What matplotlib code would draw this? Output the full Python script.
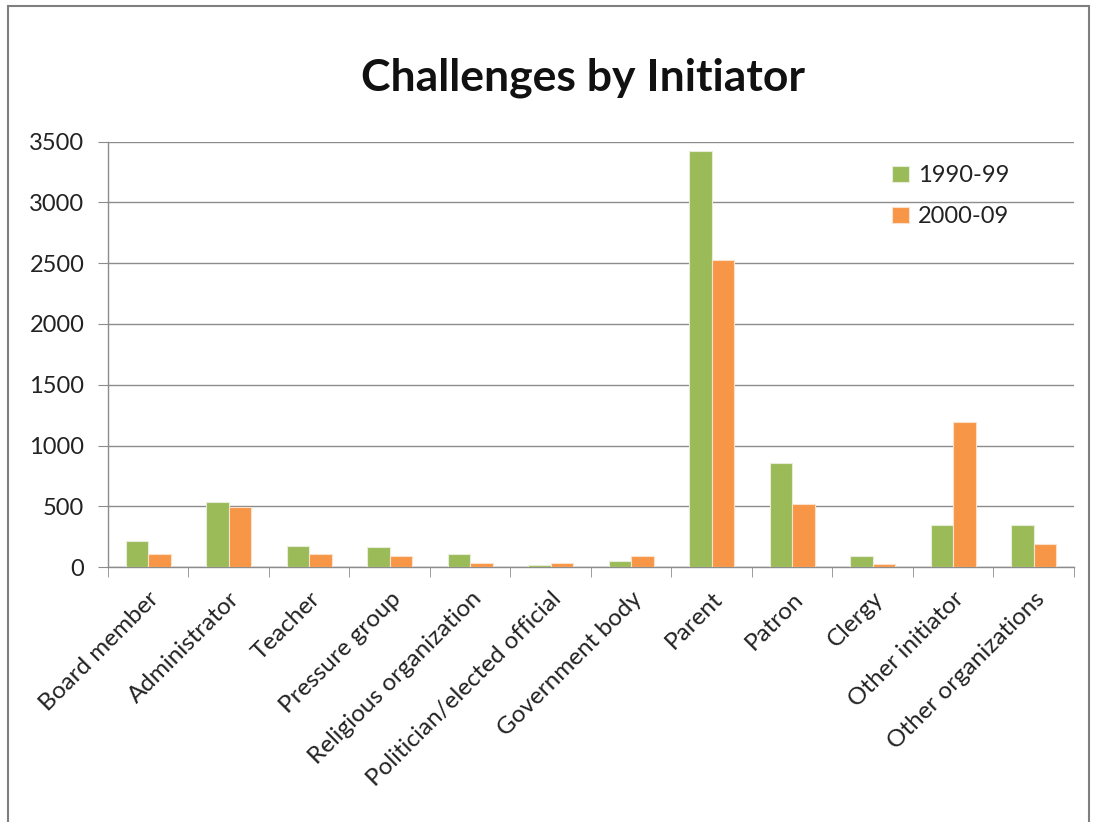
import numpy as np
import matplotlib.pyplot as plt
from matplotlib.patches import Rectangle

# Challenges by initiator, two decades
initiators = ['Board member', 'Administrator', 'Teacher', 'Pressure group',
              'Religious organization', 'Politician/elected official',
              'Government body', 'Parent', 'Patron', 'Clergy',
              'Other initiator', 'Other organizations']
counts_1990s = [210, 535, 175, 166, 107, 16, 52, 3420, 858, 93, 344, 344]
counts_2000s = [105, 490, 105, 93, 30, 30, 93, 2530, 522, 27, 1191, 186]
series_names = ['1990-99', '2000-09']

green = '#9BBB59'
orange = '#F79646'
grid_col = '#8C8C8C'

plt.rcParams['font.family'] = ['Lato', 'DejaVu Sans']

fig = plt.figure(figsize=(10.93, 8.22), dpi=100)
ax = fig.add_axes([0.0988, 0.3102, 0.8838, 0.5174])

x = np.arange(len(initiators))
w = 0.28
ax.bar(x - w / 2, counts_1990s, w, color=green, edgecolor='#E6EEDA',
       linewidth=0.8, label=series_names[0], zorder=3)
ax.bar(x + w / 2, counts_2000s, w, color=orange, edgecolor='#FBE0CC',
       linewidth=0.8, label=series_names[1], zorder=3)

ax.set_xlim(-0.5, len(initiators) - 0.5)
ax.set_ylim(0, 3500)
ax.set_yticks(np.arange(0, 3501, 500))
ax.yaxis.grid(True, color=grid_col, linewidth=1.0, zorder=0)
ax.tick_params(axis='y', length=7, color=grid_col, labelsize=17,
               labelcolor='#222222', pad=10)

# category boundary ticks, labels at centres
ax.set_xticks(np.arange(-0.5, len(initiators)), minor=True)
ax.set_xticks(x)
ax.set_xticklabels(initiators, rotation=45, ha='right', va='top',
                   rotation_mode='anchor', fontsize=17.5, color='#222222')
ax.tick_params(axis='x', which='major', length=0, pad=15)
ax.tick_params(axis='x', which='minor', length=7, color=grid_col)

for s in ['top', 'right']:
    ax.spines[s].set_visible(False)
for s in ['left', 'bottom']:
    ax.spines[s].set_color(grid_col)
    ax.spines[s].set_linewidth(1.0)

leg = ax.legend(loc='upper left', bbox_to_anchor=(0.79, 0.995), frameon=False,
                fontsize=17, handlelength=0.7, handleheight=0.7,
                handletextpad=0.4, labelspacing=0.85)
for t in leg.get_texts():
    t.set_color('#222222')

fig.text(0.533, 0.905, 'Challenges by Initiator', ha='center', va='center',
         fontsize=32, fontweight='bold', color='#111111')

# outer chart border
fig.patches.append(Rectangle((8 / 1093, -0.05), 1081 / 1093, 1 - 6 / 822 + 0.05,
                             transform=fig.transFigure, fill=False,
                             edgecolor='#7F7F7F', linewidth=1.5))

fig.savefig('out.png', dpi=100)
